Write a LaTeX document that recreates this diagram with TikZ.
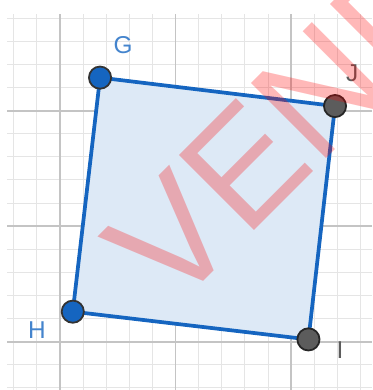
\documentclass[tikz,border=0pt]{standalone}
\usepackage{fontspec}
\setmainfont{Liberation Sans}
\usetikzlibrary{positioning, calc}

\definecolor{ggblue}{RGB}{21,101,192}
\definecolor{ggfill}{RGB}{221,233,246}
\definecolor{ggdark}{RGB}{92,92,92}

\begin{document}
\begin{tikzpicture}[
    x=0.5cm, y=0.5cm,
    % Grid styles
    minorgrid/.style={draw=black!10, line width=0.6pt},
    majorgrid/.style={draw=black!23, line width=1.1pt},
    % Polygon and points
    side/.style={
        draw=ggblue, line width=2.3pt, fill=ggfill, line join=round
    },
    freept/.style={
        circle, fill=ggblue, draw=black!80, line width=1.1pt,
        minimum size=0.48cm, inner sep=0pt
    },
    boundpt/.style={
        circle, fill=ggdark, draw=black!85, line width=1.1pt,
        minimum size=0.48cm, inner sep=0pt
    },
    % Labels
    bluelabel/.style={
        font=\fontsize{15}{15}\selectfont, text=ggblue!80!white, inner sep=0pt
    },
    greylabel/.style={
        font=\fontsize{15}{15}\selectfont, text=ggdark, inner sep=0pt
    },
    stamp/.style={
        font=\fontsize{95}{95}\selectfont, text=red, text opacity=0.28,
        inner sep=0pt, anchor=base west, rotate=45
    }
]

\useasboundingbox (-2.60,-2.09) rectangle (13.51,14.79);

% --- Grid ---
\draw[minorgrid] (-2.29,-2.09) grid[step=1] (13.51,14.19);
\draw[majorgrid] (-2.29,-2.09) grid[step=5] (13.51,14.19);

% --- Points ---
\coordinate (g) at (1.73,11.43);
\coordinate (j) at (11.90,10.20);
\coordinate (i) at (10.75,0.10);
\coordinate (h) at (0.55,1.30);

% --- Polygon ---
\draw[side] (g) -- (j) -- (i) -- (h) -- cycle;

\node[freept] (G) at (g) {};
\node[freept] (H) at (h) {};
\node[boundpt] (J) at (j) {};
\node[boundpt] (I) at (i) {};

% --- Labels ---
\node[bluelabel] (labG) at (2.73,12.84) {G};
\node[bluelabel] (labH) at (-1.00,0.51) {H};
\node[greylabel] (labJ) at (12.64,11.63) {J};
\node[greylabel] (labI) at (12.12,-0.36) {I};

% --- Watermark ---
\begin{scope}
    \clip (-2.60,-2.09) rectangle (13.51,14.79);
    \node[stamp] (wm) at (4.85,1.25) {VENDIDO};
\end{scope}

\end{tikzpicture}
\end{document}
